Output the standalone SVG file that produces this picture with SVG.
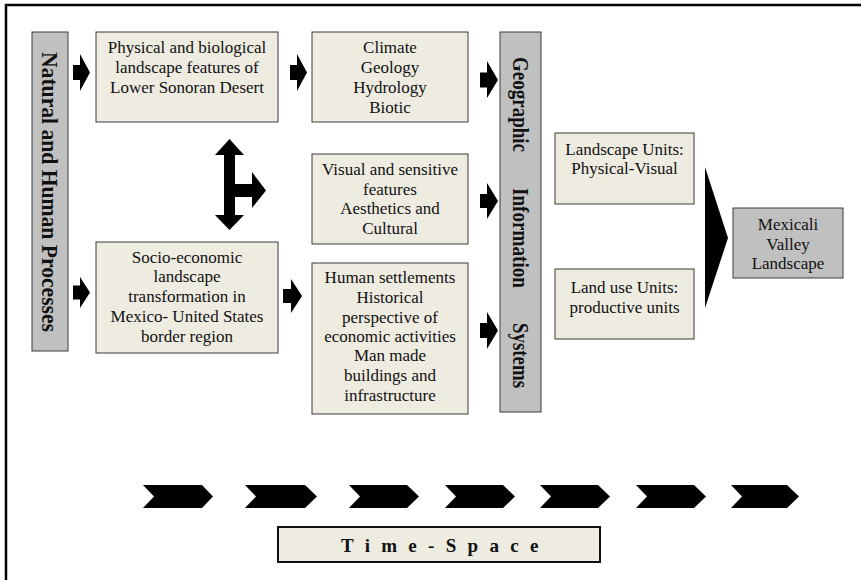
<svg xmlns="http://www.w3.org/2000/svg" width="861" height="580" viewBox="0 0 861 580">
<style>
.box{fill:#eeebe1;stroke:#3a3a3a;stroke-width:1}
.gray{fill:#c0c0c0;stroke:#3a3a3a;stroke-width:1}
.t{font-family:"Liberation Serif","Times New Roman",serif;font-size:17px;fill:#111;text-anchor:middle}
.v{font-family:"Liberation Serif","Times New Roman",serif;font-size:24px;font-weight:bold;fill:#111}
.arr{fill:#000}
</style>
<rect width="861" height="580" fill="#fff"/>
<path d="M6,580 V5 H861" fill="none" stroke="#000" stroke-width="2.5"/>

<g id="natural-human">
<rect class="gray" x="32" y="32" width="36" height="319"/>
<text class="v" transform="translate(42,52) rotate(90)" textLength="280" lengthAdjust="spacingAndGlyphs">Natural and Human Processes</text>
</g>

<g id="physical-biological">
<rect class="box" x="96" y="32" width="182" height="90"/>
<text class="t" x="187" y="53">Physical and biological</text>
<text class="t" x="187" y="73">landscape features of</text>
<text class="t" x="187" y="93">Lower Sonoran Desert</text>
</g>

<g id="climate">
<rect class="box" x="312" y="32" width="156" height="90"/>
<text class="t" x="390" y="53">Climate</text>
<text class="t" x="390" y="73">Geology</text>
<text class="t" x="390" y="93">Hydrology</text>
<text class="t" x="390" y="113">Biotic</text>
</g>

<g id="visual">
<rect class="box" x="312" y="154" width="156" height="90"/>
<text class="t" x="390" y="175">Visual and sensitive</text>
<text class="t" x="390" y="195">features</text>
<text class="t" x="390" y="214">Aesthetics and</text>
<text class="t" x="390" y="234">Cultural</text>
</g>

<g id="human-settlements">
<rect class="box" x="312" y="263" width="156" height="151"/>
<text class="t" x="390" y="283">Human settlements</text>
<text class="t" x="390" y="303">Historical</text>
<text class="t" x="390" y="323">perspective of</text>
<text class="t" x="390" y="342">economic activities</text>
<text class="t" x="390" y="361">Man made</text>
<text class="t" x="390" y="381">buildings and</text>
<text class="t" x="390" y="401">infrastructure</text>
</g>

<g id="socio-economic">
<rect class="box" x="96" y="242" width="182" height="111"/>
<text class="t" x="187" y="263">Socio-economic</text>
<text class="t" x="187" y="282">landscape</text>
<text class="t" x="187" y="302">transformation in</text>
<text class="t" x="187" y="322">Mexico- United States</text>
<text class="t" x="187" y="342">border region</text>
</g>

<g id="gis">
<rect class="gray" x="500" y="32" width="41" height="380"/>
<text class="v" font-size="22" transform="translate(513,57) rotate(90)" textLength="95" lengthAdjust="spacingAndGlyphs">Geographic</text>
<text class="v" font-size="22" transform="translate(513,188) rotate(90)" textLength="100" lengthAdjust="spacingAndGlyphs">Information</text>
<text class="v" font-size="22" transform="translate(513,323) rotate(90)" textLength="65" lengthAdjust="spacingAndGlyphs">Systems</text>
</g>

<g id="landscape-units">
<rect class="box" x="555" y="133" width="139" height="71"/>
<text class="t" x="624.5" y="155">Landscape Units:</text>
<text class="t" x="624.5" y="174">Physical-Visual</text>
</g>

<g id="land-use-units">
<rect class="box" x="555" y="269" width="139" height="70"/>
<text class="t" x="624.5" y="293">Land use Units:</text>
<text class="t" x="624.5" y="313">productive units</text>
</g>

<g id="mexicali">
<rect class="gray" x="733" y="208" width="110" height="70"/>
<text class="t" x="788" y="230">Mexicali</text>
<text class="t" x="788" y="250">Valley</text>
<text class="t" x="788" y="269">Landscape</text>
</g>

<g id="time-space">
<rect x="278" y="527" width="322" height="35" fill="#eeebe1" stroke="#111" stroke-width="2"/>
<text x="341" y="551.5" font-family="'Liberation Serif','Times New Roman',serif" font-size="19" font-weight="bold" letter-spacing="11.3" fill="#111">Time-Space</text>
</g>

<g id="connectors">
<path class="arr" d="M73,65 H80 V54 L90,72.5 L80,91 V80 H73 Z"/>
<path class="arr" d="M290,65 H297 V54 L307,72.5 L297,91 V80 H290 Z"/>
<path class="arr" d="M480,72.5 H487 V61 L498,80 L487,98 V87.5 H480 Z"/>
<path class="arr" d="M480,194 H487 V183 L498,201 L487,219 V208 H480 Z"/>
<path class="arr" d="M480,323 H487 V312 L498,330.5 L487,349 V338 H480 Z"/>
<path class="arr" d="M73,285.5 H80 V277 L90,292.5 L80,308 V299.5 H73 Z"/>
<path class="arr" d="M283,289 H291 V279 L302,296 L291,313 V303 H283 Z"/>
<path class="arr" d="M229.5,139 L244,155 H235 V184 H252 V172 L266,190.5 L252,208 V197 H235 V215 H244 L229.5,230 L215,215 H224 V155 H215 Z"/>
<path class="arr" d="M705,167 L728,238 L705,308 Z"/>
<g class="arr">
<path d="M143,485 H202 L213,496.5 L202,508 H143 L154,496.5 Z"/>
<path d="M245,485 H305 L317,496.5 L305,508 H245 L256,496.5 Z"/>
<path d="M349,485 H407 L419,496.5 L407,508 H349 L360,496.5 Z"/>
<path d="M445,485 H503 L515,496.5 L503,508 H445 L456,496.5 Z"/>
<path d="M540,485 H598 L610,496.5 L598,508 H540 L551,496.5 Z"/>
<path d="M636,485 H694 L706,496.5 L694,508 H636 L647,496.5 Z"/>
<path d="M731,485 H787 L799,496.5 L787,508 H731 L742,496.5 Z"/>
</g>
</g>
</svg>
